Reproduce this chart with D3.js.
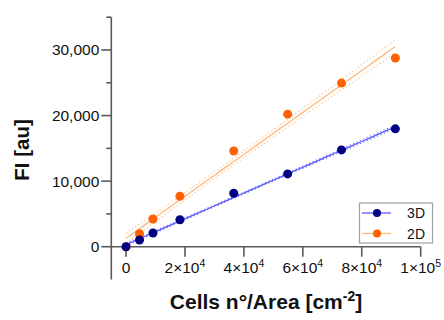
<!DOCTYPE html>
<html>
<head>
<meta charset="utf-8">
<script src="https://cdn.jsdelivr.net/npm/d3@7"></script>
<style>
  body { margin: 0; background: #fff; }
  svg { display: block; font-family: Arial, "Liberation Sans", Helvetica, sans-serif; }
</style>
</head>
<body>
<div class="chart"></div>
<script>
// cells per area (cm^-2)
const cells = [0, 4570, 9140, 18280, 36560, 54840, 73120, 91400];
// fluorescence intensity
const fi3D = [0, 1020, 2090, 4120, 8150, 11100, 14760, 17970];
const fi2D = [0, 1980, 4230, 7690, 14600, 20210, 24950, 28770];
const seriesNames = ['3D', '2D'];
const yTicks = [0, 10000, 20000, 30000];
const yMinor = [5000, 15000, 25000, 35000];
const xTicks = [0, 20000, 40000, 60000, 80000, 100000];
const xTickLabels = [['0', ''], ['2×10', '4'], ['4×10', '4'], ['6×10', '4'], ['8×10', '4'], ['1×10', '5']];

const Width = 444;
const Height = 320;
const axisColor = '#5a5a5a';

const svg = d3.select('.chart').append('svg').attr('width', Width).attr('height', Height);

const x = d3.scaleLinear().domain([-5000, 100000]).range([111.3, 420.7]);
const y = d3.scaleLinear().domain([-5000, 35000]).range([279.5, 17.2]);

// least squares fit + 1 SE band
function linfit(xs, ys) {
  const n = xs.length;
  const mx = d3.mean(xs), my = d3.mean(ys);
  let sxx = 0, sxy = 0;
  xs.forEach((v, i) => { sxx += (v - mx) * (v - mx); sxy += (v - mx) * (ys[i] - my); });
  const b = sxy / sxx, a = my - b * mx;
  let ssr = 0;
  xs.forEach((v, i) => { const r = ys[i] - (a + b * v); ssr += r * r; });
  const s = Math.sqrt(ssr / (n - 2));
  return { a, b, se: (v) => s * Math.sqrt(1 / n + (v - mx) * (v - mx) / sxx) };
}

const series = [
  { name: '2D', vals: fi2D, dot: '#ff6000', fit: '#ffb878', band: '#ffbf88' },
  { name: '3D', vals: fi3D, dot: '#000080', fit: '#5a5aff', band: '#7878ff' }
];

const xs = d3.range(0, 41).map(i => cells[0] + (cells[cells.length - 1] - cells[0]) * i / 40);
const line = d3.line().x(d => x(d[0])).y(d => y(d[1]));

series.forEach(s => {
  const f = linfit(cells, s.vals);
  [-1, 1].forEach(k => {
    svg.append('path')
      .attr('d', line(xs.map(v => [v, f.a + f.b * v + k * 1.1 * f.se(v)])))
      .attr('fill', 'none').attr('stroke', s.band).attr('stroke-width', 1.2)
      .attr('stroke-dasharray', '1.2,2.5');
  });
  svg.append('path')
    .attr('d', line(xs.map(v => [v, f.a + f.b * v])))
    .attr('fill', 'none').attr('stroke', s.fit).attr('stroke-width', 1.3);
});

// axes
const ax = svg.append('g').attr('stroke', axisColor).attr('stroke-width', 1.6);
ax.append('line').attr('x1', x(-5000)).attr('x2', x(-5000)).attr('y1', y(-5000)).attr('y2', y(35000));
ax.append('line').attr('x1', x(-5000)).attr('x2', x(100000)).attr('y1', y(0)).attr('y2', y(0));
yTicks.forEach(t => {
  ax.append('line').attr('x1', x(-5000) - 10).attr('x2', x(-5000)).attr('y1', y(t)).attr('y2', y(t));
});
yMinor.forEach(t => {
  ax.append('line').attr('x1', x(-5000) - 5).attr('x2', x(-5000)).attr('y1', y(t)).attr('y2', y(t));
});
xTicks.forEach(t => {
  ax.append('line').attr('x1', x(t)).attr('x2', x(t)).attr('y1', y(0)).attr('y2', y(0) + 10);
});

svg.selectAll('.ylab').data(yTicks).enter().append('text')
  .attr('class', 'ylab')
  .attr('x', x(-5000) - 12).attr('y', d => y(d)).attr('dy', '0.35em')
  .attr('text-anchor', 'end').attr('font-size', 15.5).attr('fill', '#111')
  .text(d => d3.format(',')(d));

const xl = svg.selectAll('.xlab').data(xTicks).enter().append('text')
  .attr('class', 'xlab')
  .attr('x', d => x(d)).attr('y', 273)
  .attr('text-anchor', 'middle').attr('font-size', 15.5).attr('fill', '#111');
xl.append('tspan').text((d, i) => xTickLabels[i][0]);
xl.append('tspan').attr('font-size', 10.5).attr('dy', -6).text((d, i) => xTickLabels[i][1]);

// points
series.forEach(s => {
  svg.selectAll('.pt' + s.name).data(s.vals).enter().append('circle')
    .attr('cx', (d, i) => x(cells[i])).attr('cy', d => y(d))
    .attr('r', 4.5).attr('fill', s.dot);
});

// titles
svg.append('text')
  .attr('transform', 'translate(29,150) rotate(-90)')
  .attr('text-anchor', 'middle').attr('font-size', 20.5).attr('font-weight', 'bold').attr('fill', '#111')
  .text('FI [au]');

const xt = svg.append('text')
  .attr('x', 266).attr('y', 309)
  .attr('text-anchor', 'middle').attr('font-size', 21).attr('font-weight', 'bold').attr('fill', '#111');
xt.append('tspan').text('Cells n°/Area [cm');
xt.append('tspan').attr('font-size', 14).attr('dy', -8).text('-2');
xt.append('tspan').attr('dy', 8).text(']');

// legend
const lg = svg.append('g');
lg.append('rect').attr('x', 359.5).attr('y', 203).attr('width', 73).attr('height', 40)
  .attr('fill', '#fff').attr('stroke', '#a0a0a0').attr('stroke-width', 1.2);
seriesNames.forEach((nm, i) => {
  const s = series.find(d => d.name === nm);
  const ly = 213 + i * 20.5;
  lg.append('line').attr('x1', 362).attr('x2', 391).attr('y1', ly).attr('y2', ly)
    .attr('stroke', s.fit).attr('stroke-width', 1.3);
  lg.append('circle').attr('cx', 377).attr('cy', ly).attr('r', 4).attr('fill', s.dot);
  lg.append('text').attr('x', 425).attr('y', ly).attr('dy', '0.36em')
    .attr('text-anchor', 'end').attr('font-size', 14).attr('fill', '#111').text(nm);
});
</script>
</body>
</html>
